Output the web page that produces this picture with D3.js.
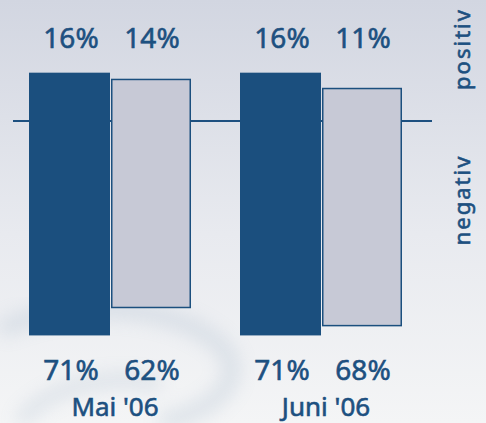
<!DOCTYPE html>
<html>
<head>
<meta charset="utf-8">
<script src="https://cdn.jsdelivr.net/npm/d3@7"></script>
<style>
  html, body { margin: 0; padding: 0; }
  body { width: 486px; height: 423px; overflow: hidden; }
  text { font-family: "Noto Sans", "Open Sans", sans-serif; fill: #1d5080; stroke: #1d5080; stroke-width: 0.6px; }
</style>
</head>
<body>
<div id="chart"></div>
<script>
const months = ["Mai '06", "Juni '06"];
const series = ["a", "b"];
const positiv = [[16, 14], [16, 11]];
const negativ = [[71, 62], [71, 68]];

const width = 486, height = 423;
const base = 121;

const svg = d3.select("#chart").append("svg")
  .attr("width", width)
  .attr("height", height);

// background
const defs = svg.append("defs");
const grad = defs.append("linearGradient")
  .attr("id", "bg").attr("x1", 0).attr("y1", 0).attr("x2", 0).attr("y2", 1);
grad.append("stop").attr("offset", "0%").attr("stop-color", "#d2d6e1");
grad.append("stop").attr("offset", "55%").attr("stop-color", "#e8eaef");
grad.append("stop").attr("offset", "100%").attr("stop-color", "#f4f5f6");
defs.append("filter").attr("id", "blur")
  .append("feGaussianBlur").attr("stdDeviation", 9);

svg.append("rect")
  .attr("width", width).attr("height", height)
  .attr("fill", "url(#bg)");

// faint swirl in the background, lower left
const swirl = svg.append("g").attr("filter", "url(#blur)").attr("opacity", 0.22);
swirl.append("path")
  .attr("d", "M0,330 C60,300 170,300 220,345 C250,375 220,410 160,423")
  .attr("fill", "none").attr("stroke", "#8ea6bd").attr("stroke-width", 18);
swirl.append("path")
  .attr("d", "M20,423 C40,390 110,370 160,385")
  .attr("fill", "none").attr("stroke", "#8ea6bd").attr("stroke-width", 14);

// scales
const x0 = d3.scaleBand()
  .domain(months)
  .range([29, 29 + 211 * 2]);

const x1 = d3.scaleBand()
  .domain(series)
  .range([0, 162]);

const y = d3.scaleLinear()
  .domain([0, 100])
  .range([base, base - 302]);

const yDown = d3.scaleLinear()
  .domain([0, 100])
  .range([base, base + 302]);

// baseline
svg.append("line")
  .attr("x1", 13).attr("x2", 432)
  .attr("y1", base).attr("y2", base)
  .attr("stroke", "#1d5080").attr("stroke-width", 2.2);

const colors = { a: "#1b4f7e", b: "#c7c9d6" };

months.forEach((m, mi) => {
  const g = svg.append("g")
    .attr("transform", "translate(" + x0(m) + ",0)");

  series.forEach((s, si) => {
    const p = positiv[mi][si], n = negativ[mi][si];
    const rect = g.append("rect")
      .attr("x", x1(s))
      .attr("y", y(p))
      .attr("width", x1.bandwidth())
      .attr("height", yDown(n) - y(p))
      .attr("fill", colors[s]);
    if (si === 1) {
      rect.attr("x", x1(s) + 1.75).attr("width", x1.bandwidth() - 2.5)
        .attr("y", y(p) + 0.75).attr("height", yDown(n) - y(p) - 1.5)
        .attr("stroke", "#1b4f7e").attr("stroke-width", 1.5);
    }

    const cx = x1(s) + x1.bandwidth() / 2 + 1.5;
    g.append("text")
      .attr("x", cx).attr("y", 48)
      .attr("text-anchor", "middle")
      .attr("font-size", 28)
      .text(p + "%");
    g.append("text")
      .attr("x", cx).attr("y", 380)
      .attr("text-anchor", "middle")
      .attr("font-size", 28)
      .text(n + "%");
  });

  g.append("text")
    .attr("x", x1.range()[1] / 2 + 5).attr("y", 416)
    .attr("text-anchor", "middle")
    .attr("font-size", 26)
    .text(m);
});

// side labels
[["positiv", 49], ["negativ", 200]].forEach(([t, cy]) => {
  svg.append("text")
    .attr("transform", "translate(470," + cy + ") rotate(-90)")
    .attr("text-anchor", "middle")
    .attr("font-size", 22)
    .attr("letter-spacing", 2)
    .text(t);
});
</script>
</body>
</html>
